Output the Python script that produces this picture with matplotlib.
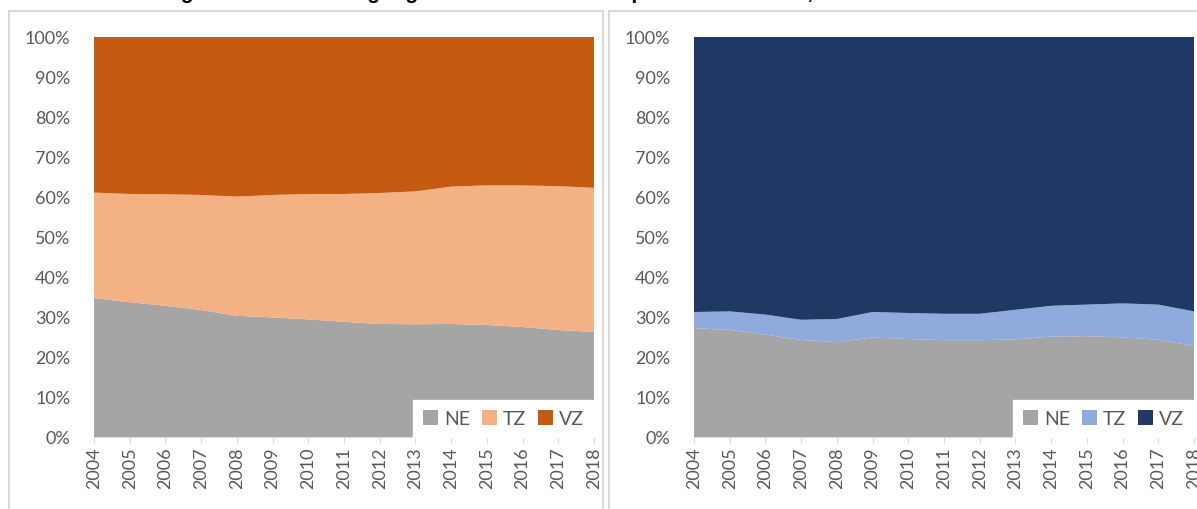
import matplotlib
matplotlib.use("Agg")
import matplotlib.pyplot as plt
from matplotlib.patches import Rectangle
from matplotlib.ticker import PercentFormatter

plt.rcParams["font.family"] = ["Lato", "DejaVu Sans"]

# data (shares in %)
years = list(range(2004, 2019))
series_names = ["NE", "TZ", "VZ"]

ne_left = [34.75, 33.7, 32.8, 31.75, 30.3, 29.9, 29.4, 28.8, 28.25, 28.2, 28.25, 28.0, 27.5, 26.75, 26.25]
tz_left = [26.35, 27.05, 27.9, 28.75, 29.8, 30.6, 31.35, 31.95, 32.75, 33.2, 34.35, 34.9, 35.4, 35.95, 36.05]
vz_left = [38.9, 39.25, 39.3, 39.5, 39.9, 39.5, 39.25, 39.25, 39.0, 38.6, 37.4, 37.1, 37.1, 37.3, 37.7]

ne_right = [27.25, 26.75, 25.6, 24.25, 23.7, 24.9, 24.5, 24.2, 24.2, 24.4, 25.1, 25.2, 24.9, 24.3, 22.8]
tz_right = [4.0, 4.65, 5.0, 5.05, 5.8, 6.35, 6.5, 6.6, 6.6, 7.4, 7.7, 7.9, 8.5, 8.8, 8.6]
vz_right = [68.75, 68.6, 69.4, 70.7, 70.5, 68.75, 69.0, 69.2, 69.2, 68.2, 67.2, 66.9, 66.6, 66.9, 68.6]

title = "Abbildung 3: Erwerbsbeteiligung der Frauen nach Hauptverdienerstatus, West- und Ostdeutschland"

colors_left = ["#A5A5A5", "#F4B183", "#C55A11"]
colors_right = ["#A5A5A5", "#8FAADC", "#203864"]

W, H = 1197, 510
fig = plt.figure(figsize=(W / 100, H / 100), dpi=100)


def px(x0, y0, x1, y1):
    # pixel box (top-left origin) -> figure fraction rect
    return [x0 / W, 1 - y1 / H, (x1 - x0) / W, (y1 - y0) / H]


# panel borders
for x0, x1 in [(9, 603), (609, 1205)]:
    fig.patches.append(Rectangle((x0 / W, -0.05), (x1 - x0) / W, 1 - 12 / H + 0.05,
                                 transform=fig.transFigure, fill=False,
                                 edgecolor="#D9D9D9", linewidth=1.5))

# title is cut off at the top edge, as in the reference
fig.text(0.49, 1 + 1 / H, title, ha="center", va="baseline", fontsize=15,
         fontweight="bold", family=["Liberation Sans", "DejaVu Sans"], color="black")


def draw_panel(ax, ne, tz, vz, colors):
    ax.stackplot(years, ne, tz, vz, colors=colors, labels=series_names, linewidth=0)
    ax.set_xlim(2004, 2018)
    ax.set_ylim(0, 100)
    ax.set_yticks(range(0, 101, 10))
    ax.yaxis.set_major_formatter(PercentFormatter(decimals=0))
    ax.set_xticks(years)
    ax.set_xticklabels([str(y) for y in years], rotation=90)
    for s in ["top", "right", "left"]:
        ax.spines[s].set_visible(False)
    ax.spines["bottom"].set_color("#D9D9D9")
    ax.tick_params(axis="y", length=0, pad=17, labelsize=13, labelcolor="#595959")
    ax.tick_params(axis="x", length=4, color="#D9D9D9", pad=3, labelsize=13,
                   labelcolor="#595959")
    leg = ax.legend(loc="lower right", ncol=3, frameon=True, fancybox=False,
                    fontsize=14, handlelength=0.8, handleheight=0.8, handletextpad=0.3,
                    columnspacing=0.6, borderaxespad=0, borderpad=0.5)
    leg.get_frame().set_facecolor("white")
    leg.get_frame().set_edgecolor("white")
    leg.get_frame().set_alpha(1)
    for t in leg.get_texts():
        t.set_color("#595959")


ax1 = fig.add_axes(px(94, 38, 594, 438))
draw_panel(ax1, ne_left, tz_left, vz_left, colors_left)

ax2 = fig.add_axes(px(694, 38, 1194, 438))
draw_panel(ax2, ne_right, tz_right, vz_right, colors_right)

fig.savefig("out.png", dpi=100)
